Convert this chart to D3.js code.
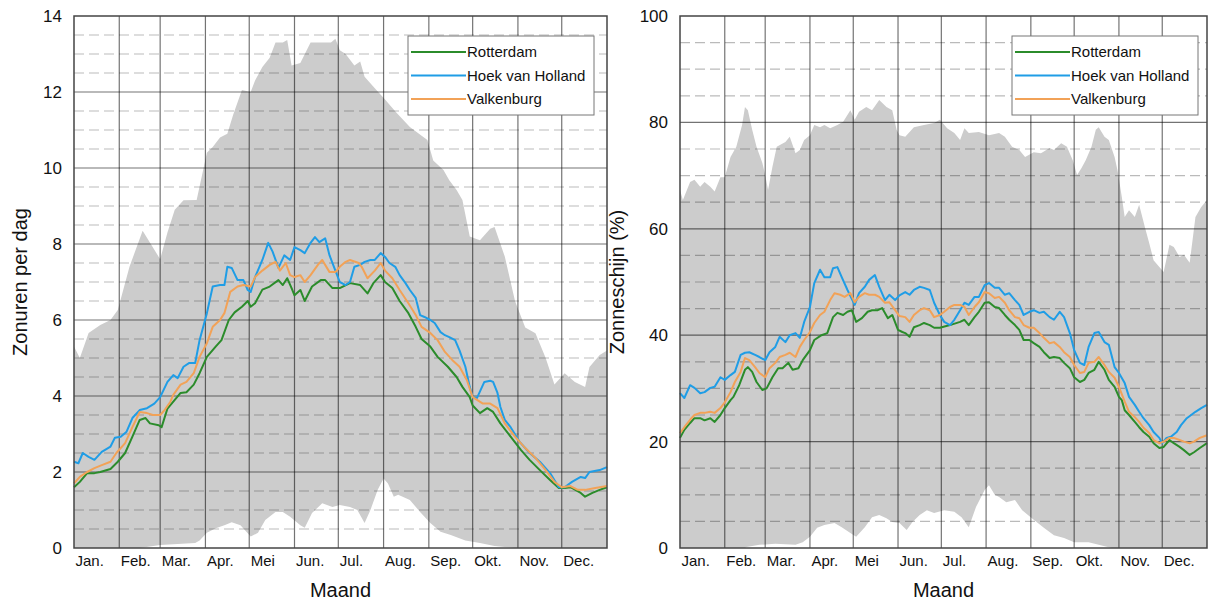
<!DOCTYPE html>
<html>
<head>
<meta charset="utf-8">
<script src="https://cdn.jsdelivr.net/npm/d3@7"></script>
<style>
  body { margin: 0; background: #fff; }
  svg { font-family: "Liberation Sans", Arial, Helvetica, sans-serif; }
</style>
</head>
<body>
<svg id="chart" width="1209" height="601"></svg>
<script>
const monthLabels = ["Jan.", "Feb.", "Mar.", "Apr.", "Mei", "Jun.", "Jul.", "Aug.", "Sep.", "Okt.", "Nov.", "Dec."];
const monthStarts = [0, 31, 59, 90, 120, 151, 181, 212, 243, 273, 304, 334];
const stations = ["Rotterdam", "Hoek van Holland", "Valkenburg"];
const stationColors = ["#2b8c2b", "#1f9de6", "#f2a257"];

// left panel: sunshine hours per day, [day of year, value]
const hoursTicks = [0, 2, 4, 6, 8, 10, 12, 14];
const hoursMax = [[0,5.3],[4,5.0],[10,5.66],[18,5.87],[25,6.0],[30,6.26],[38,7.4],[47,8.35],[59,7.6],[64,8.3],[69,8.9],[75,9.15],[84,9.16],[91,10.4],[95,10.55],[100,10.8],[105,10.9],[109,11.4],[115,12.05],[121,12.0],[124,12.3],[129,12.66],[134,12.9],[138,13.3],[143,13.3],[146,13.37],[149,12.7],[155,12.76],[162,13.3],[169,13.3],[176,13.3],[179,13.4],[182,13.1],[186,13.0],[192,12.7],[196,12.8],[199,12.4],[206,12.1],[213,11.8],[221,11.45],[230,11.08],[242,10.74],[246,10.2],[253,9.95],[257,9.68],[262,9.42],[266,9.16],[271,8.2],[278,8.1],[285,8.4],[288,8.45],[295,7.67],[302,6.5],[309,5.8],[316,5.65],[323,5.0],[329,4.3],[336,4.6],[343,4.37],[350,4.24],[353,4.76],[360,5.08],[365,5.2]];
const hoursMin = [[0,0],[45,0],[59,0.08],[83,0.13],[86,0.2],[91,0.4],[97,0.52],[103,0.6],[108,0.68],[114,0.6],[121,0.3],[126,0.4],[131,0.74],[138,0.95],[143,0.95],[148,0.82],[155,0.6],[158,0.53],[163,0.92],[170,1.18],[177,1.08],[182,1.13],[189,1.08],[194,1.0],[199,0.66],[203,1.0],[208,1.53],[212,1.83],[215,1.7],[219,1.35],[222,1.4],[230,1.26],[237,0.95],[244,0.66],[251,0.43],[258,0.34],[268,0.2],[278,0.13],[288,0.05],[302,0],[365,0]];
const hoursRotterdam = [[0,1.6],[4,1.74],[9,1.97],[14,1.97],[18,2.0],[25,2.08],[30,2.27],[35,2.5],[40,2.93],[45,3.37],[49,3.42],[52,3.28],[58,3.23],[60,3.18],[64,3.67],[69,3.9],[73,4.08],[77,4.1],[82,4.3],[86,4.6],[91,5.03],[97,5.3],[101,5.47],[106,6.0],[110,6.2],[115,6.35],[119,6.5],[121,6.35],[124,6.44],[129,6.8],[134,6.88],[140,7.05],[143,6.92],[146,7.1],[149,6.84],[151,6.65],[155,6.79],[158,6.5],[163,6.88],[169,7.05],[172,7.05],[177,6.84],[182,6.84],[189,6.97],[196,6.92],[201,6.7],[205,6.97],[210,7.18],[213,7.0],[218,6.84],[223,6.5],[229,6.18],[234,5.82],[238,5.5],[244,5.3],[249,5.03],[256,4.77],[262,4.5],[266,4.24],[271,3.97],[273,3.75],[278,3.55],[283,3.68],[287,3.58],[292,3.28],[299,2.93],[306,2.58],[312,2.32],[319,2.05],[326,1.79],[332,1.58],[336,1.58],[340,1.6],[347,1.45],[350,1.35],[355,1.45],[360,1.53],[365,1.6]];
const hoursHoek = [[0,2.27],[3,2.23],[6,2.5],[10,2.4],[14,2.32],[19,2.53],[25,2.67],[28,2.9],[32,2.93],[36,3.06],[40,3.42],[45,3.63],[50,3.68],[55,3.8],[59,3.97],[64,4.37],[68,4.55],[71,4.47],[75,4.77],[79,4.87],[83,4.87],[86,5.47],[91,6.18],[95,6.88],[100,6.92],[103,6.92],[105,7.4],[108,7.37],[112,7.05],[116,7.05],[119,6.79],[121,6.74],[124,7.13],[129,7.58],[133,8.03],[136,7.8],[140,7.37],[144,7.7],[148,7.58],[151,7.92],[155,7.84],[158,7.76],[162,8.03],[165,8.18],[168,8.05],[172,8.15],[175,7.7],[179,7.3],[182,7.0],[186,6.92],[189,7.0],[192,7.4],[196,7.45],[199,7.53],[203,7.58],[206,7.58],[210,7.76],[213,7.66],[216,7.5],[220,7.4],[223,7.18],[227,6.97],[230,6.79],[234,6.58],[237,6.13],[240,6.08],[244,6.0],[247,5.92],[251,5.68],[254,5.6],[257,5.55],[261,5.47],[264,5.2],[268,4.77],[271,4.24],[273,3.97],[276,3.95],[281,4.37],[285,4.4],[287,4.37],[290,4.08],[292,3.71],[295,3.37],[299,3.18],[305,2.8],[312,2.5],[319,2.27],[326,1.97],[332,1.6],[336,1.6],[341,1.74],[347,1.87],[350,1.84],[353,2.0],[360,2.05],[365,2.13]];
const hoursValkenburg = [[0,1.7],[4,1.87],[9,2.0],[14,2.1],[19,2.18],[25,2.27],[29,2.5],[35,2.76],[40,3.18],[45,3.58],[50,3.55],[54,3.5],[59,3.5],[62,3.63],[66,3.85],[68,4.03],[73,4.3],[77,4.37],[82,4.6],[86,5.03],[91,5.39],[95,5.82],[100,6.0],[103,6.18],[107,6.74],[112,6.88],[116,6.92],[121,6.88],[124,7.13],[129,7.3],[134,7.45],[138,7.53],[141,7.3],[145,7.5],[148,7.18],[151,7.13],[155,7.18],[158,7.0],[162,7.18],[167,7.45],[170,7.58],[175,7.26],[179,7.26],[182,7.4],[186,7.53],[189,7.58],[195,7.5],[197,7.4],[201,7.1],[206,7.3],[210,7.5],[213,7.3],[218,7.1],[223,6.79],[229,6.44],[234,6.13],[238,5.82],[244,5.66],[249,5.47],[254,5.16],[259,4.95],[264,4.77],[269,4.42],[273,3.97],[276,3.9],[280,3.8],[285,3.8],[290,3.68],[295,3.28],[302,2.93],[309,2.63],[316,2.37],[323,2.05],[329,1.74],[334,1.6],[340,1.63],[345,1.53],[350,1.53],[357,1.58],[365,1.63]];

// right panel: percentage of possible sunshine, [day of year, value]
const pctTicks = [0, 20, 40, 60, 80, 100];
const pctMax = [[0,67.3],[2,65.4],[7,68.8],[10,69.2],[14,67.9],[17,68.8],[21,67.9],[24,67],[28,69.7],[31,69.7],[35,73.5],[39,75.4],[43,79.5],[45,82.9],[47,82.3],[50,78.6],[53,75.4],[57,72.4],[59,70.1],[61,67.3],[64,71.6],[67,75.4],[73,76.3],[76,77.3],[80,74.2],[83,74.8],[86,76.7],[90,77.6],[93,79.5],[97,79.1],[100,79.5],[104,78.9],[109,79.5],[113,80.1],[118,82.3],[121,80.5],[124,82],[129,82.9],[133,82.3],[138,84.2],[143,82.9],[147,82.3],[150,78.6],[152,77.6],[156,77.3],[162,79.1],[169,79.5],[176,79.9],[180,80.5],[185,78.9],[190,78],[194,76.7],[197,78.9],[200,78],[207,78.2],[214,77.6],[221,78],[225,77.3],[230,75.4],[235,74.8],[239,73.5],[245,74.4],[250,74.2],[256,75.2],[259,74.8],[264,76.1],[268,75.4],[272,72.9],[275,70.1],[278,71.4],[281,72.9],[285,75.4],[288,78.6],[290,79.1],[294,77.3],[297,76.7],[301,73.5],[303,71],[306,66],[308,62.2],[311,63.5],[315,62.2],[318,64.5],[322,60.3],[325,57.3],[328,54.1],[332,52.8],[335,51.9],[339,57],[342,56.6],[346,54.7],[349,55.1],[353,53.6],[355,57.9],[357,62.2],[361,64.1],[365,65.4]];
const pctMin = [[0,0],[45,0],[46,0.2],[55,0.6],[66,0.8],[80,0.6],[85,1.1],[90,2.1],[95,3.8],[100,4.3],[107,4.7],[112,3.9],[118,2.8],[122,2.1],[128,3.9],[133,5.8],[138,6.2],[143,5.6],[147,4.9],[152,4.7],[157,3.4],[161,4.9],[166,6.2],[171,7.1],[176,6.6],[183,7.1],[190,6.8],[195,5.8],[200,3.9],[205,7.7],[211,10.9],[214,11.8],[218,10],[221,9.6],[226,8.6],[232,9],[237,7.1],[245,5.3],[252,3.8],[259,2.4],[266,1.9],[273,1.1],[283,1.1],[290,0.6],[299,0],[365,0]];
const pctRotterdam = [[0,20.7],[3,22.2],[7,23.5],[10,24.4],[14,24.4],[17,24],[21,24.4],[24,23.7],[28,25],[31,26.3],[35,27.8],[37,28.4],[41,30.6],[45,33.5],[47,34],[50,33.1],[53,31.2],[57,29.7],[60,30],[64,32.1],[68,33.8],[71,33.8],[75,34.8],[78,33.5],[82,33.8],[85,35.3],[90,37.2],[93,39.1],[98,40],[102,40.4],[106,43.4],[109,44.2],[113,43.8],[116,44.4],[119,44.7],[122,42.5],[126,43.2],[130,44.4],[133,44.7],[137,44.7],[140,45.1],[144,43.2],[147,43.8],[151,41],[154,40.6],[156,40.4],[159,39.7],[162,41.5],[166,41.9],[169,42.3],[173,41.9],[176,41.4],[180,41.4],[187,41.9],[194,42.5],[197,42.9],[200,41.9],[204,43.4],[207,44.4],[211,46.1],[214,46.2],[218,45.3],[221,45.1],[225,43.8],[228,42.9],[232,41.9],[235,41],[238,39.1],[242,39.1],[245,38.5],[249,37.8],[252,36.8],[256,35.7],[259,35.9],[263,35.7],[266,34.8],[270,33.8],[273,32.1],[277,31.2],[280,31.6],[283,32.9],[287,33.5],[290,35],[294,33.5],[297,31.6],[301,30.3],[304,28.4],[306,27.8],[308,25.9],[311,25],[315,23.7],[318,22.7],[321,21.8],[325,20.9],[328,19.7],[332,18.8],[335,19],[339,20.3],[342,19.7],[346,19],[349,18.4],[353,17.5],[356,18],[360,18.8],[365,19.7]];
const pctHoek = [[0,29.1],[3,28.2],[7,30.6],[10,30.1],[14,29.1],[17,29.3],[21,30.1],[24,30.3],[28,32.1],[31,31.6],[35,32.5],[38,33.1],[42,36.3],[45,36.7],[48,36.8],[52,36.3],[55,35.9],[59,35.3],[62,36.8],[66,37.8],[69,39.7],[73,38.7],[76,40],[80,40.4],[83,39.5],[86,42.5],[90,45.3],[93,49.8],[97,52.3],[100,50.9],[104,50.9],[106,52.6],[109,52.8],[112,50.9],[116,48.5],[121,45.7],[124,47.9],[128,49.1],[131,50.4],[135,51.3],[138,49.1],[142,46.6],[145,47.6],[149,46.6],[152,47.5],[156,48.1],[159,47.6],[162,48.5],[166,49.1],[169,48.9],[173,48.5],[176,46.1],[180,43.8],[183,42.5],[187,41.9],[190,42.9],[194,44.7],[197,46.1],[200,45.7],[204,47.2],[207,47.2],[211,49.4],[214,49.8],[218,48.9],[221,48.9],[225,47.6],[228,47.9],[232,46.6],[235,45.7],[238,43.8],[242,44.4],[245,44.7],[249,44.2],[252,44.4],[256,43.4],[259,42.9],[263,44.4],[266,43.4],[270,40.4],[273,37.2],[277,34.8],[280,34.4],[283,37.8],[287,40.4],[290,40.6],[294,38.7],[297,38.2],[301,34],[304,32.9],[308,31],[311,28.4],[315,26.9],[318,25.6],[321,24.4],[325,23.1],[328,21.8],[332,20.7],[334,19.7],[337,20.7],[340,20.9],[344,21.8],[347,23.1],[351,24.4],[354,25],[357,25.6],[361,26.3],[365,26.9]];
const pctValkenburg = [[0,21.6],[3,22.7],[7,24.1],[10,25],[14,25.4],[17,25.4],[21,25.6],[24,25.4],[28,26.3],[31,27.4],[35,29.3],[38,31.2],[42,33.1],[45,35.7],[48,35.3],[52,34],[55,32.9],[59,32.1],[62,33.8],[66,34.8],[69,35.9],[73,36.3],[76,36.7],[80,35.9],[83,37.8],[86,39.1],[90,40.6],[93,42.3],[97,43.8],[100,44.4],[104,46.6],[107,47.9],[111,47.6],[114,47.2],[118,47.9],[121,46.2],[124,47.2],[128,47.9],[131,47.6],[135,47.6],[138,47.2],[142,46.1],[145,46.2],[149,44.7],[152,43.6],[156,43.4],[159,42.5],[162,43.8],[166,44.7],[169,45.1],[173,44.7],[176,43.4],[180,43.8],[183,44.4],[187,45.3],[190,45.7],[194,45.7],[197,45.3],[200,43.8],[204,45.3],[207,46.2],[211,48.1],[214,47.9],[218,47],[221,47.2],[225,46.1],[228,44.7],[232,43.4],[235,43.2],[238,41.9],[242,41.4],[245,41.4],[249,40.4],[252,39.5],[256,38.5],[259,38.7],[263,37.8],[266,36.8],[270,35.9],[273,34.4],[277,32.9],[280,33.1],[283,34.8],[287,35],[290,35.9],[294,34.4],[297,33.1],[301,32],[304,30.3],[308,27.5],[311,25.6],[315,24.6],[318,23.7],[321,22.6],[325,21.6],[328,20.3],[332,19.7],[335,20],[339,20.7],[342,20.7],[346,20.3],[349,20],[353,19.7],[356,20],[360,20.7],[365,21.2]];

const svg = d3.select("#chart");
const plotTop = 16, plotBottom = 548;

function drawPanel(p) {
  const x = d3.scaleLinear().domain([0, 365]).range([p.left, p.right]);
  const y = d3.scaleLinear().domain([0, p.ticks[p.ticks.length - 1]]).range([plotBottom, plotTop]);
  const g = svg.append("g");

  const area = d3.area().x(d => x(d[0])).y0(y(0)).y1(d => y(d[1]));
  g.append("path").datum(p.max).attr("d", area).attr("fill", "#cccccc");
  g.append("path").datum(p.min).attr("d", area).attr("fill", "#ffffff");

  // dashed minor grid
  g.append("g").selectAll("line")
    .data(p.minor)
    .enter().append("line")
    .attr("x1", p.left).attr("x2", p.right)
    .attr("y1", d => y(d)).attr("y2", d => y(d))
    .attr("stroke", "rgba(0,0,0,0.27)")
    .attr("stroke-width", 1.2)
    .attr("stroke-dasharray", "10,5");

  // solid major grid
  g.append("g").selectAll("line")
    .data(p.ticks.slice(1, -1))
    .enter().append("line")
    .attr("x1", p.left).attr("x2", p.right)
    .attr("y1", d => y(d)).attr("y2", d => y(d))
    .attr("stroke", "rgba(0,0,0,0.55)")
    .attr("stroke-width", 1.2);
  g.append("g").selectAll("line")
    .data(monthStarts.slice(1))
    .enter().append("line")
    .attr("x1", d => x(d)).attr("x2", d => x(d))
    .attr("y1", plotTop).attr("y2", plotBottom)
    .attr("stroke", "rgba(0,0,0,0.55)")
    .attr("stroke-width", 1.2);

  // station lines
  const line = d3.line().x(d => x(d[0])).y(d => y(d[1]));
  p.series.forEach((s, i) => {
    g.append("path").datum(s)
      .attr("d", line)
      .attr("fill", "none")
      .attr("stroke", stationColors[i])
      .attr("stroke-width", 2)
      .attr("stroke-linejoin", "round");
  });

  // frame
  g.append("rect")
    .attr("x", p.left).attr("y", plotTop)
    .attr("width", p.right - p.left).attr("height", plotBottom - plotTop)
    .attr("fill", "none").attr("stroke", "#444").attr("stroke-width", 1.5);

  // axes
  const yAxis = g.append("g")
    .attr("transform", `translate(${p.left},0)`)
    .call(d3.axisLeft(y).tickValues(p.ticks).tickSize(0).tickPadding(12));
  yAxis.select(".domain").remove();
  yAxis.selectAll("text").attr("font-size", 17).attr("fill", "#111")
    .attr("font-family", "Liberation Sans, Arial, sans-serif");

  const xAxis = g.append("g")
    .attr("transform", `translate(0,${plotBottom})`)
    .call(d3.axisBottom(x).tickValues(monthStarts).tickSize(0).tickPadding(7)
      .tickFormat((d, i) => monthLabels[i]));
  xAxis.select(".domain").remove();
  xAxis.selectAll("text").attr("font-size", 15).attr("fill", "#111")
    .attr("text-anchor", "start").attr("dx", 1)
    .attr("font-family", "Liberation Sans, Arial, sans-serif");

  g.append("text")
    .attr("x", (p.left + p.right) / 2).attr("y", 597)
    .attr("text-anchor", "middle").attr("font-size", 20).attr("fill", "#111")
    .text("Maand");
  g.append("text")
    .attr("transform", `translate(${p.labelX},${(plotTop + plotBottom) / 2}) rotate(-90)`)
    .attr("text-anchor", "middle").attr("font-size", 20).attr("fill", "#111")
    .text(p.label);

  // legend
  const lg = g.append("g").attr("transform", `translate(${p.legendX},36)`);
  lg.append("rect").attr("width", 186).attr("height", 79)
    .attr("fill", "#fff").attr("stroke", "#777").attr("stroke-width", 1);
  stations.forEach((name, i) => {
    const ly = 16 + i * 23.5;
    lg.append("line").attr("x1", 3).attr("x2", 58).attr("y1", ly).attr("y2", ly)
      .attr("stroke", stationColors[i]).attr("stroke-width", 2);
    lg.append("text").attr("x", 59).attr("y", ly).attr("dy", "0.35em")
      .attr("font-size", 15).attr("fill", "#111").text(name);
  });
}

drawPanel({
  left: 74, right: 607, labelX: 27, legendX: 408, label: "Zonuren per dag",
  ticks: hoursTicks, minor: d3.range(0.5, 14, 0.5).filter(v => v % 2 !== 0),
  max: hoursMax, min: hoursMin,
  series: [hoursRotterdam, hoursHoek, hoursValkenburg]
});

drawPanel({
  left: 680, right: 1207, labelX: 624, legendX: 1012, label: "Zonneschijn (%)",
  ticks: pctTicks, minor: d3.range(5, 100, 5).filter(v => v % 20 !== 0),
  max: pctMax, min: pctMin,
  series: [pctRotterdam, pctHoek, pctValkenburg]
});
</script>
</body>
</html>
